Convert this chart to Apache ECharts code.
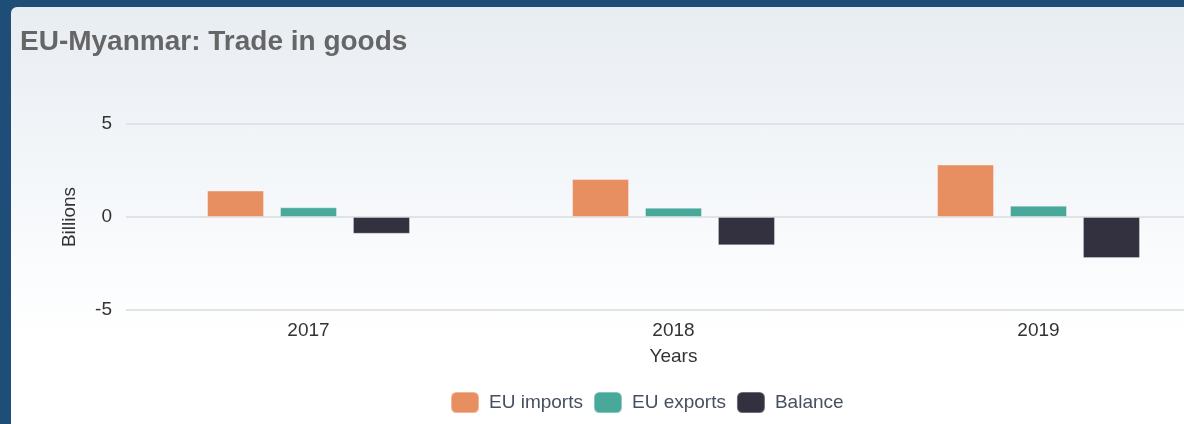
<!DOCTYPE html>
<html>
<head>
<meta charset="utf-8">
<script src="https://cdn.jsdelivr.net/npm/echarts@6/dist/echarts.min.js"></script>
<style>
  html, body { margin: 0; padding: 0; width: 1184px; height: 424px; overflow: hidden; background: #1e4d78; }
  #panel {
    position: absolute; left: 11px; top: 7px; width: 1173px; height: 417px; overflow: hidden;
    border-top-left-radius: 6px;
    background: linear-gradient(to bottom, #e8edf2 0%, #f8fafc 55%, #ffffff 80%);
  }
  /* chart is wider than the window: the third category runs off the right edge */
  #chart { width: 1240px; height: 417px; }
</style>
</head>
<body>
<div id="panel"><div id="chart"></div></div>
<script>
// data (billions of euro)
const years = ["2017", "2018", "2019"];
const euImports = [1.42, 2.04, 2.82];
const euExports = [0.52, 0.5, 0.61];
const balance = [-0.9, -1.52, -2.21];
const yTicks = [-5, 0, 5];

const chart = echarts.init(document.getElementById("chart"));
const font = "Liberation Sans, Arial, sans-serif";

const option = {
  animation: false,
  textStyle: { fontFamily: font },
  title: {
    text: "EU-Myanmar: Trade in goods",
    left: 4,
    top: 16,
    textStyle: { fontSize: 28, fontWeight: "bold", color: "#666666", fontFamily: font }
  },
  legend: {
    left: 434,
    top: 379,
    icon: "roundRect",
    itemWidth: 28,
    itemHeight: 21,
    itemGap: 10,
    textStyle: { fontSize: 19, color: "#46505e", fontFamily: font, padding: [0, 0, 0, 5] },
    data: ["EU imports", "EU exports", "Balance"]
  },
  grid: { left: 115, top: 117, width: 1095, height: 186 },
  xAxis: {
    type: "category",
    data: years,
    name: "Years",
    nameLocation: "middle",
    nameGap: 37,
    nameTextStyle: { fontSize: 19, color: "#333", fontFamily: font },
    axisLine: { show: false },
    axisTick: { show: false },
    axisLabel: { fontSize: 19, color: "#333", margin: 11, fontFamily: font }
  },
  yAxis: {
    type: "value",
    min: yTicks[0],
    max: yTicks[yTicks.length - 1],
    interval: 5,
    name: "Billions",
    nameLocation: "middle",
    nameGap: 47,
    nameTextStyle: { fontSize: 19, color: "#333", fontFamily: font },
    axisLine: { show: false },
    axisTick: { show: false },
    axisLabel: { fontSize: 19, color: "#333", margin: 14, fontFamily: font },
    splitLine: { lineStyle: { color: "#e1e3e7", width: 2 } }
  },
  series: [
    {
      name: "EU imports", type: "bar", data: euImports,
      barWidth: 57, barGap: "28%",
      itemStyle: { color: "#e88f62", borderColor: "rgba(255,255,255,0.35)", borderWidth: 1 }
    },
    {
      name: "EU exports", type: "bar", data: euExports,
      barWidth: 57, barGap: "28%",
      itemStyle: { color: "#48a89a", borderColor: "rgba(255,255,255,0.35)", borderWidth: 1 }
    },
    {
      name: "Balance", type: "bar", data: balance,
      barWidth: 57, barGap: "28%",
      itemStyle: { color: "#33313f", borderColor: "rgba(255,255,255,0.3)", borderWidth: 1 }
    }
  ]
};
chart.setOption(option);
</script>
</body>
</html>
